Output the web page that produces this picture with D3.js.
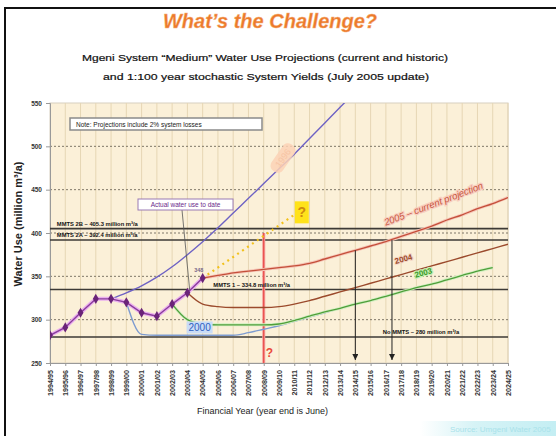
<!DOCTYPE html>
<html>
<head>
<meta charset="utf-8">
<script src="https://cdn.jsdelivr.net/npm/d3@7"></script>
<style>
  body { margin: 0; background: #fff; font-family: Arial, "Liberation Sans", sans-serif; }
</style>
</head>
<body>
<div id="chart"></div>
<script>
// Financial years on the x axis (tick labels).
const years = [
  "1994/95", "1995/96", "1996/97", "1997/98", "1998/99", "1999/00", "2000/01",
  "2001/02", "2002/03", "2003/04", "2004/05", "2005/06", "2006/07", "2007/08",
  "2008/09", "2009/10", "2010/11", "2011/12", "2012/13", "2013/14", "2014/15",
  "2015/16", "2016/17", "2017/18", "2018/19", "2019/20", "2020/21", "2021/22",
  "2022/23", "2023/24", "2024/25"
];
const yTicks = [250, 300, 350, 400, 450, 500, 550];

// Actual water use (million m3/a), from 1994/95.
const actualUse = [282, 291, 308, 324, 324, 320, 308, 304, 318, 331, 348];

// Projections: first year index + values.
const proj1996Start = 4;
const proj1996 = [324, 331, 339, 349, 361, 375, 390, 406, 423, 440, 457, 474, 491, 509, 527, 545, 563];
const proj2000Start = 5;
const proj2000 = [320, 283, 282, 282, 282, 282, 282, 282, 285, 289, 293, 298, 303, 308, 313];
const proj2003Start = 8;
const proj2003 = [318, 300, 295, 294, 294, 294, 294, 295, 299, 304, 309, 313, 318, 322, 327, 332, 337, 341, 346, 351, 356, 360];
const proj2004Start = 9;
const proj2004 = [331, 318, 315, 314, 314, 314, 315, 318, 322, 327, 332, 337, 342, 347, 352, 357, 362, 367, 372, 377, 382, 387];
const proj2005Start = 10;
const proj2005 = [348, 351, 354, 356, 358, 360, 362, 365, 370, 375, 380, 385, 390, 396, 402, 408, 415, 421, 428, 434, 441];

// Straight "?" trend from last actual value.
const trendIdx = [10, 16];
const trendVal = [348, 421];

// System yields (horizontal lines).
const yieldNames = ["MMTS 2B \u2013 405.3 million m\u00b3/a", "MMTS 2A \u2013 392.4 million m\u00b3/a",
                    "MMTS 1 \u2013 334.8 million m\u00b3/a", "No MMTS \u2013 280 million m\u00b3/a"];
const yieldValues = [405, 392, 334.8, 280];

// Arrows: year index and value they drop from.
const arrowIdx = [20, 22.4];
const arrowFrom = [380, 392];

const width = 556, height = 436;
const plot = { left: 50, right: 508, top: 103, bottom: 363 };

const svg = d3.select("#chart").append("svg")
  .attr("width", width)
  .attr("height", height);

const defs = svg.append("defs");
defs.append("clipPath").attr("id", "clip")
  .append("rect")
  .attr("x", plot.left).attr("y", plot.top)
  .attr("width", plot.right - plot.left).attr("height", plot.bottom - plot.top);
defs.append("marker")
  .attr("id", "arrow")
  .attr("viewBox", "0 0 10 10")
  .attr("refX", 10).attr("refY", 5)
  .attr("markerWidth", 6).attr("markerHeight", 6)
  .attr("orient", "auto")
  .append("path").attr("d", "M0,0L10,5L0,10Z").attr("fill", "#222");
const grad = defs.append("linearGradient").attr("id", "cyan");
grad.append("stop").attr("offset", "0%").attr("stop-color", "#ffffff");
grad.append("stop").attr("offset", "40%").attr("stop-color", "#d6f3f6");
grad.append("stop").attr("offset", "100%").attr("stop-color", "#c4eef3");

// Slide frame.
svg.append("rect")
  .attr("x", 5).attr("y", 8).attr("width", 580).attr("height", 450)
  .attr("fill", "none").attr("stroke", "#111").attr("stroke-width", 2);

// Faint source band bottom right.
svg.append("rect")
  .attr("x", 420).attr("y", 421).attr("width", 136).attr("height", 15)
  .attr("fill", "url(#cyan)");
svg.append("text")
  .attr("x", 450).attr("y", 432)
  .attr("font-size", 8).attr("fill", "#a9e2ea")
  .text("Source: Umgeni Water 2005");

// Titles.
svg.append("text")
  .attr("x", 270).attr("y", 28)
  .attr("text-anchor", "middle")
  .attr("font-size", 20).attr("font-weight", "bold").attr("font-style", "italic")
  .attr("fill", "#ec7a2c")
  .attr("stroke", "#f6b27c").attr("stroke-width", 0.4)
  .text("What\u2019s the Challenge?");
svg.append("text")
  .attr("x", 265).attr("y", 61)
  .attr("text-anchor", "middle")
  .attr("font-size", 9.5).attr("fill", "#111")
  .attr("stroke", "#111").attr("stroke-width", 0.2)
  .attr("textLength", 366).attr("lengthAdjust", "spacingAndGlyphs")
  .text("Mgeni System \u201cMedium\u201d Water Use Projections (current and historic)");
svg.append("text")
  .attr("x", 266).attr("y", 80)
  .attr("text-anchor", "middle")
  .attr("font-size", 9.5).attr("fill", "#111")
  .attr("stroke", "#111").attr("stroke-width", 0.2)
  .attr("textLength", 326).attr("lengthAdjust", "spacingAndGlyphs")
  .text("and 1:100 year stochastic System Yields (July 2005 update)");

// Scales.
const x = d3.scaleLinear().domain([0, years.length - 1]).range([plot.left, plot.right]);
const y = d3.scaleLinear().domain([250, 550]).range([plot.bottom, plot.top]);

// Plot background.
svg.append("rect")
  .attr("x", plot.left).attr("y", plot.top)
  .attr("width", plot.right - plot.left).attr("height", plot.bottom - plot.top)
  .attr("fill", "#fbf0d8").attr("stroke", "#d8d0c0");

// Vertical grid.
svg.append("g")
  .selectAll("line")
  .data(d3.range(1, years.length))
  .join("line")
  .attr("x1", d => x(d)).attr("x2", d => x(d))
  .attr("y1", plot.top).attr("y2", plot.bottom)
  .attr("stroke", "#e6d6b4").attr("stroke-width", 1);

// Horizontal dotted grid.
svg.append("g")
  .selectAll("line")
  .data(yTicks.slice(1, -1))
  .join("line")
  .attr("x1", plot.left).attr("x2", plot.right)
  .attr("y1", d => y(d)).attr("y2", d => y(d))
  .attr("stroke", "#7f7768").attr("stroke-width", 1).attr("stroke-dasharray", "2,2");

// Axes.
const yAxis = svg.append("g")
  .attr("transform", `translate(${plot.left},0)`)
  .call(d3.axisLeft(y).tickValues(yTicks).tickSize(4).tickPadding(4));
yAxis.select(".domain").attr("stroke", "#999");
yAxis.selectAll("line").attr("stroke", "#999");
yAxis.selectAll("text").attr("font-size", 6.5).attr("font-weight", "bold").attr("fill", "#333");

const xAxis = svg.append("g")
  .attr("transform", `translate(0,${plot.bottom})`)
  .call(d3.axisBottom(x).tickValues(d3.range(years.length)).tickFormat(i => years[i]).tickSize(3));
xAxis.select(".domain").attr("stroke", "#999");
xAxis.selectAll("line").attr("stroke", "#999");
xAxis.selectAll("text")
  .attr("font-size", 7.2).attr("font-weight", "bold").attr("fill", "#333")
  .attr("transform", "rotate(-90)")
  .attr("text-anchor", "end")
  .attr("x", -7).attr("y", 0).attr("dy", "0.32em");

// Axis titles.
svg.append("text")
  .attr("transform", "translate(22,224) rotate(-90)")
  .attr("text-anchor", "middle")
  .attr("font-size", 11).attr("font-weight", "bold").attr("fill", "#222")
  .text("Water Use (million m\u00b3/a)");
svg.append("text")
  .attr("x", 197).attr("y", 414)
  .attr("font-size", 9).attr("fill", "#222")
  .text("Financial Year   (year end is June)");

const chart = svg.append("g").attr("clip-path", "url(#clip)");

// Yield lines.
chart.append("g")
  .selectAll("line")
  .data(yieldValues)
  .join("line")
  .attr("x1", plot.left).attr("x2", plot.right)
  .attr("y1", d => y(d)).attr("y2", d => y(d))
  .attr("stroke", "#3d3a36").attr("stroke-width", 1.6);

const yieldLabelAt = [0.45, 0.45, 10.7, 21.8];
svg.append("g")
  .selectAll("text")
  .data(yieldNames)
  .join("text")
  .attr("x", (d, i) => x(yieldLabelAt[i]))
  .attr("y", (d, i) => y(yieldValues[i]) - 3)
  .attr("font-size", 5.8).attr("font-weight", "bold").attr("fill", "#111")
  .text(d => d);

const line = d3.line()
  .x(d => x(d[0]))
  .y(d => y(d[1]))
  .curve(d3.curveMonotoneX);
const pts = (start, vals) => vals.map((v, i) => [start + i, v]);

// Red "?" vertical at 2008/09.
chart.append("line")
  .attr("x1", x(14)).attr("x2", x(14))
  .attr("y1", y(400)).attr("y2", y(250))
  .attr("stroke", "#f49a9a").attr("stroke-width", 3);
chart.append("line")
  .attr("x1", x(14)).attr("x2", x(14))
  .attr("y1", y(400)).attr("y2", y(250))
  .attr("stroke", "#e8403a").attr("stroke-width", 1);

// Projections.
chart.append("path").datum(pts(proj2000Start, proj2000))
  .attr("d", line).attr("fill", "none")
  .attr("stroke", "#7d9bd0").attr("stroke-width", 1.4);

chart.append("path").datum(pts(proj2003Start, proj2003))
  .attr("d", line).attr("fill", "none")
  .attr("stroke", "#d2efc0").attr("stroke-width", 3);
chart.append("path").datum(pts(proj2003Start, proj2003))
  .attr("d", line).attr("fill", "none")
  .attr("stroke", "#4f9e3a").attr("stroke-width", 1.3);

chart.append("path").datum(pts(proj2004Start, proj2004))
  .attr("d", line).attr("fill", "none")
  .attr("stroke", "#9b4a2c").attr("stroke-width", 1.4);

chart.append("path").datum(pts(proj2005Start, proj2005))
  .attr("d", line).attr("fill", "none")
  .attr("stroke", "#f6c6b8").attr("stroke-width", 3);
chart.append("path").datum(pts(proj2005Start, proj2005))
  .attr("d", line).attr("fill", "none")
  .attr("stroke", "#c4503a").attr("stroke-width", 1.3);

chart.append("path").datum(pts(proj1996Start, proj1996))
  .attr("d", line).attr("fill", "none")
  .attr("stroke", "#6e62c4").attr("stroke-width", 1.4);

// Yellow dotted trend.
chart.append("path").datum(trendIdx.map((d, i) => [d, trendVal[i]]))
  .attr("d", line).attr("fill", "none")
  .attr("stroke", "#f2c11c").attr("stroke-width", 2.2)
  .attr("stroke-dasharray", "2,4");

// Actual use.
const actualPts = pts(0, actualUse);
chart.append("path").datum(actualPts)
  .attr("d", d3.line().x(d => x(d[0])).y(d => y(d[1])))
  .attr("fill", "none").attr("stroke", "#eab0ee").attr("stroke-width", 4);
chart.append("path").datum(actualPts)
  .attr("d", d3.line().x(d => x(d[0])).y(d => y(d[1])))
  .attr("fill", "none").attr("stroke", "#8a3c9c").attr("stroke-width", 1.4);
chart.append("g")
  .selectAll("path")
  .data(actualPts)
  .join("path")
  .attr("transform", d => `translate(${x(d[0])},${y(d[1])})`)
  .attr("d", d3.symbol(d3.symbolDiamond, 30))
  .attr("fill", "#6a2478");

// Arrows.
svg.append("g")
  .selectAll("line")
  .data(arrowIdx)
  .join("line")
  .attr("x1", d => x(d)).attr("x2", d => x(d))
  .attr("y1", (d, i) => y(arrowFrom[i])).attr("y2", plot.bottom - 3)
  .attr("stroke", "#222").attr("stroke-width", 1)
  .attr("marker-end", "url(#arrow)");

// Annotations.
const note = svg.append("g");
note.append("rect")
  .attr("x", 70).attr("y", 118).attr("width", 192).attr("height", 12)
  .attr("fill", "#fff").attr("stroke", "#8a8a8a").attr("stroke-width", 1.5);
note.append("text")
  .attr("x", 76).attr("y", 126.5)
  .attr("font-size", 6.5).attr("fill", "#222")
  .text("Note:  Projections include 2% system losses");

svg.append("line")
  .attr("x1", 182).attr("y1", 210)
  .attr("x2", x(9.15)).attr("y2", y(334))
  .attr("stroke", "#555").attr("stroke-width", 0.8);
svg.append("rect")
  .attr("x", 138).attr("y", 199).attr("width", 95).attr("height", 11)
  .attr("fill", "#fff").attr("stroke", "#9a7ab4").attr("stroke-width", 1);
svg.append("text")
  .attr("x", 185.5).attr("y", 207)
  .attr("text-anchor", "middle")
  .attr("font-size", 6.5).attr("fill", "#6a2a8a")
  .text("Actual water use to date");

svg.append("text")
  .attr("x", x(9.75)).attr("y", y(355))
  .attr("text-anchor", "middle")
  .attr("font-size", 5.5).attr("font-weight", "bold").attr("fill", "#7a6a8a")
  .text("348");

// Faded 1996 label.
const lbl96 = svg.append("g").attr("transform", "translate(283,158) rotate(-55)");
lbl96.append("rect")
  .attr("x", -16).attr("y", -7).attr("width", 32).attr("height", 14).attr("rx", 6)
  .attr("fill", "#fbd2b6").attr("opacity", 0.85);
lbl96.append("text")
  .attr("text-anchor", "middle").attr("dy", "0.35em")
  .attr("font-size", 9).attr("fill", "#f7c4a4")
  .text("1996");

// Yellow "?" box.
svg.append("rect")
  .attr("x", x(16.1) - 1).attr("y", y(425) - 10).attr("width", 14).attr("height", 22)
  .attr("fill", "#ffe21a");
svg.append("text")
  .attr("x", x(16.1) + 6).attr("y", y(425) + 6)
  .attr("text-anchor", "middle")
  .attr("font-size", 14).attr("font-weight", "bold").attr("fill", "#d08a10")
  .text("?");

svg.append("text")
  .attr("x", x(14) + 2).attr("y", y(257))
  .attr("font-size", 12).attr("font-weight", "bold").attr("fill", "#ea4a3a")
  .text("?");

// 2000 label.
svg.append("rect")
  .attr("x", x(9.8) - 13).attr("y", y(291) - 6).attr("width", 26).attr("height", 12)
  .attr("fill", "#c9dcf6");
svg.append("text")
  .attr("x", x(9.8)).attr("y", y(291) + 4)
  .attr("text-anchor", "middle")
  .attr("font-size", 10).attr("fill", "#2f5fc0")
  .text("2000");

// Projection labels.
const l05 = svg.append("g").attr("transform", `translate(${x(25.2)},${y(430)}) rotate(-21)`);
l05.append("text")
  .attr("text-anchor", "middle")
  .attr("font-size", 9.5).attr("font-style", "italic").attr("fill", "#c8563e")
  .attr("stroke", "#f8cfc0").attr("stroke-width", 2.5).attr("paint-order", "stroke")
  .text("2005 \u2013 current projection");

svg.append("g").attr("transform", `translate(${x(23.2)},${y(367)}) rotate(-15)`)
  .append("text")
  .attr("text-anchor", "middle")
  .attr("font-size", 8).attr("font-weight", "bold").attr("fill", "#9b4a2c")
  .attr("stroke", "#f4d6c4").attr("stroke-width", 2).attr("paint-order", "stroke")
  .text("2004");

svg.append("g").attr("transform", `translate(${x(24.5)},${y(351)}) rotate(-15)`)
  .append("text")
  .attr("text-anchor", "middle")
  .attr("font-size", 8).attr("font-weight", "bold").attr("fill", "#3c9a2c")
  .attr("stroke", "#c8f0b0").attr("stroke-width", 2.5).attr("paint-order", "stroke")
  .text("2003");
</script>
</body>
</html>
